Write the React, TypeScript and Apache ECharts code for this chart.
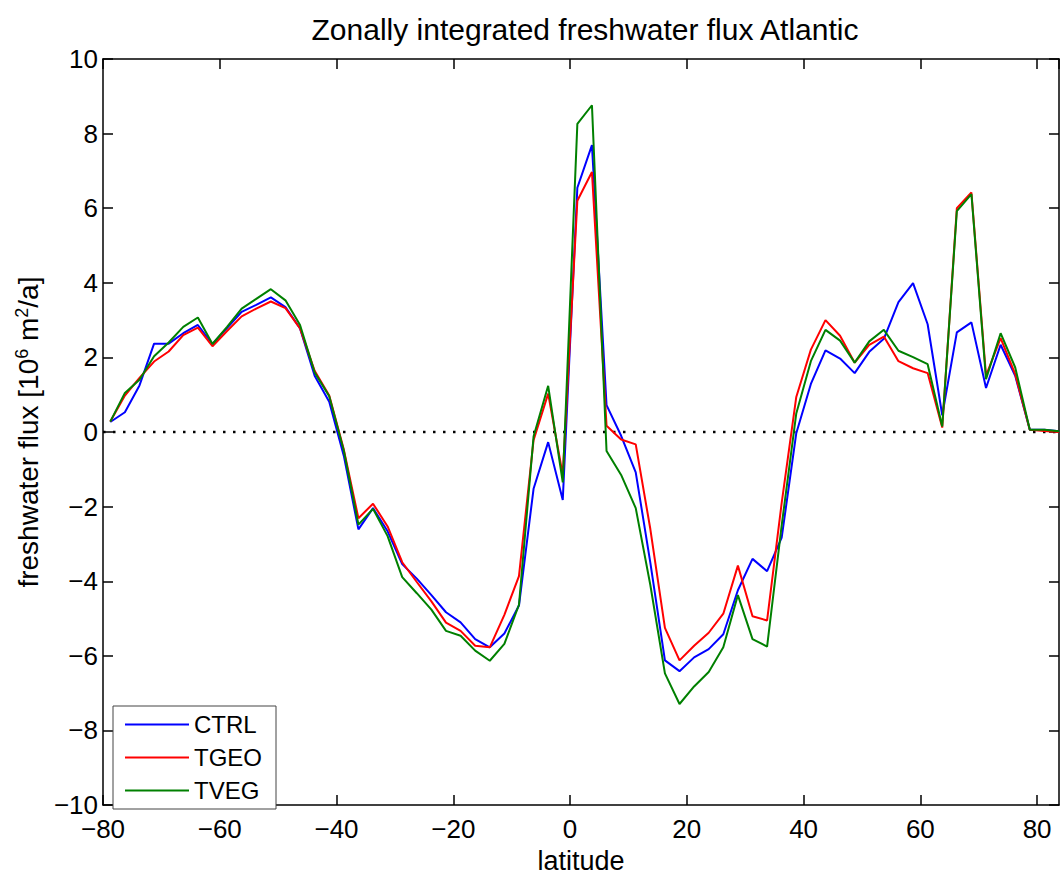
import React, { useEffect, useRef } from "react";
import * as echarts from "echarts";

const latitudes = [
  -78.75, -76.25, -73.75, -71.25, -68.75, -66.25, -63.75, -61.25, -58.75, -56.25,
  -53.75, -51.25, -48.75, -46.25, -43.75, -41.25, -38.75, -36.25, -33.75, -31.25,
  -28.75, -26.25, -23.75, -21.25, -18.75, -16.25, -13.75, -11.25, -8.75, -6.25,
  -3.75, -1.25, 1.25, 3.75, 6.25, 8.75, 11.25, 13.75, 16.25, 18.75,
  21.25, 23.75, 26.25, 28.75, 31.25, 33.75, 36.25, 38.75, 41.25, 43.75,
  46.25, 48.75, 51.25, 53.75, 56.25, 58.75, 61.25, 63.75, 66.25, 68.75,
  71.25, 73.75, 76.25, 78.75, 81.25, 83.75,
];

const ctrl = [
  0.27, 0.53, 1.25, 2.37, 2.37, 2.65, 2.87, 2.36, 2.79, 3.22,
  3.41, 3.61, 3.35, 2.78, 1.51, 0.81, -0.64, -2.61, -2.04, -2.66,
  -3.54, -3.93, -4.37, -4.83, -5.1, -5.55, -5.77, -5.4, -4.65, -1.52,
  -0.27, -1.82, 6.55, 7.69, 0.72, -0.1, -1.08, -3.5, -6.12, -6.41,
  -6.04, -5.82, -5.42, -4.24, -3.4, -3.73, -2.83, -0.03, 1.29, 2.19,
  1.97, 1.58, 2.15, 2.5, 3.48, 3.99, 2.89, 0.45, 2.67, 2.94,
  1.18, 2.34, 1.51, 0.06, 0.06, 0.02,
];

const tgeo = [
  0.28, 0.98, 1.45, 1.89, 2.16, 2.6, 2.8, 2.3, 2.71, 3.1,
  3.31, 3.5, 3.32, 2.78, 1.64, 0.98, -0.47, -2.31, -1.92, -2.53,
  -3.49, -4.02, -4.54, -5.11, -5.33, -5.73, -5.77, -4.9, -3.86, -0.22,
  1.03, -1.15, 6.2, 6.97, 0.17, -0.2, -0.33, -2.6, -5.25, -6.12,
  -5.73, -5.38, -4.87, -3.58, -4.94, -5.05, -1.9, 0.94, 2.21, 3.0,
  2.58, 1.86, 2.34, 2.56, 1.9, 1.71, 1.58, 0.12, 6.0, 6.42,
  1.51, 2.52, 1.55, 0.06, 0.03, 0.0,
];

const tveg = [
  0.28, 1.05, 1.4, 2.03, 2.4, 2.82, 3.07, 2.36, 2.82, 3.31,
  3.57, 3.83, 3.53, 2.87, 1.6, 0.96, -0.5, -2.48, -2.06, -2.79,
  -3.89, -4.32, -4.76, -5.33, -5.46, -5.86, -6.13, -5.68, -4.63, -0.12,
  1.24, -1.35, 8.26, 8.76, -0.51, -1.15, -2.04, -4.1, -6.47, -7.29,
  -6.82, -6.43, -5.77, -4.37, -5.55, -5.75, -2.5, 0.5, 1.9, 2.74,
  2.45, 1.86, 2.43, 2.74, 2.18, 2.01, 1.82, 0.15, 5.92, 6.38,
  1.42, 2.65, 1.73, 0.06, 0.06, 0.02,
];

const seriesNames = ["CTRL", "TGEO", "TVEG"];
const seriesColors = ["#0000ff", "#ff0000", "#008000"];
const xTicks = [-80, -60, -40, -20, 0, 20, 40, 60, 80];
const xRange = [-80, 83.75];
const yRange = [-10, 10];

const FONT = "'Liberation Sans', Arial, Helvetica, sans-serif";

const minusFmt = (v: number) => String(v).replace("-", "\u2212");

export default function App() {
  const ref = useRef<HTMLDivElement>(null);

  useEffect(() => {
    if (!ref.current) return;
    const chart = echarts.init(ref.current, undefined, { renderer: "svg" });
    const allSeries = [ctrl, tgeo, tveg];

    const axisLine = { show: true, onZero: false, lineStyle: { color: "#000", width: 1.5 } };
    const tick = { show: true, inside: true, length: 10, lineStyle: { color: "#000", width: 1.5 } };

    const xLabelFmt = (v: number) => (xTicks.indexOf(v) >= 0 ? minusFmt(v) : "");

    chart.setOption({
      animation: false,
      backgroundColor: "#fff",
      grid: { left: 103, right: 1, top: 59, bottom: 60, containLabel: false },
      graphic: [
        {
          type: "text",
          x: 585,
          y: 29,
          style: {
            text: "Zonally integrated freshwater flux Atlantic",
            font: `30px ${FONT}`,
            fill: "#000",
            textAlign: "center",
            textVerticalAlign: "middle",
          },
        },
      ],
      legend: {
        data: seriesNames.map((n) => ({ name: n, icon: "rect" })),
        orient: "vertical",
        left: 113,
        top: 706,
        itemWidth: 64,
        itemHeight: 2,
        itemGap: 8,
        padding: [6, 14, 6, 12],
        borderColor: "#444",
        borderWidth: 1,
        backgroundColor: "#fff",
        textStyle: { fontSize: 24, fontFamily: FONT, color: "#000", lineHeight: 25 },
      },
      xAxis: [
        {
          type: "value",
          min: xRange[0],
          max: xRange[1],
          interval: 20,
          position: "bottom",
          name: "latitude",
          nameLocation: "middle",
          nameGap: 41,
          nameTextStyle: { fontSize: 27, fontFamily: FONT, color: "#000" },
          axisLine,
          axisTick: tick,
          splitLine: { show: false },
          axisLabel: {
            formatter: xLabelFmt,
            fontSize: 26,
            fontFamily: FONT,
            color: "#000",
            margin: 11,
            showMaxLabel: false,
          },
        },
        {
          type: "value",
          min: xRange[0],
          max: xRange[1],
          interval: 20,
          position: "top",
          axisLine,
          axisTick: tick,
          splitLine: { show: false },
          axisLabel: { show: false },
        },
      ],
      yAxis: [
        {
          type: "value",
          min: yRange[0],
          max: yRange[1],
          interval: 2,
          position: "left",
          name: "{n|freshwater flux [10}{s|6}{n| m}{s|2}{n|/a]}",
          nameLocation: "middle",
          nameGap: 45,
          nameTextStyle: {
            fontSize: 28,
            fontFamily: FONT,
            color: "#000",
            rich: {
              n: { fontSize: 28, fontFamily: FONT, color: "#000" },
              s: { fontSize: 18, fontFamily: FONT, color: "#000", padding: [0, 0, 14, 0] },
            },
          },
          axisLine,
          axisTick: tick,
          splitLine: { show: false },
          axisLabel: { formatter: minusFmt, fontSize: 26, fontFamily: FONT, color: "#000", margin: 5 },
        },
        {
          type: "value",
          min: yRange[0],
          max: yRange[1],
          interval: 2,
          position: "right",
          axisLine,
          axisTick: tick,
          splitLine: { show: false },
          axisLabel: { show: false },
        },
      ],
      series: [
        {
          name: "zero",
          type: "line",
          data: [
            [xRange[0], 0],
            [xRange[1], 0],
          ],
          symbol: "none",
          silent: true,
          lineStyle: { color: "#000", width: 2.5, type: [2.5, 7.5] },
          z: 1,
        },
        ...seriesNames.map((name, k) => ({
          name,
          type: "line",
          data: latitudes.map((lat, i) => [lat, allSeries[k][i]]),
          symbol: "none",
          showSymbol: false,
          color: seriesColors[k],
          itemStyle: { color: seriesColors[k] },
          lineStyle: { color: seriesColors[k], width: 2 },
          z: 2 + k,
        })),
      ],
    });

    return () => chart.dispose();
  }, []);

  return (
    <div
      ref={ref}
      style={{ position: "fixed", left: 0, top: 0, width: 1060, height: 879, background: "#fff" }}
    />
  );
}
